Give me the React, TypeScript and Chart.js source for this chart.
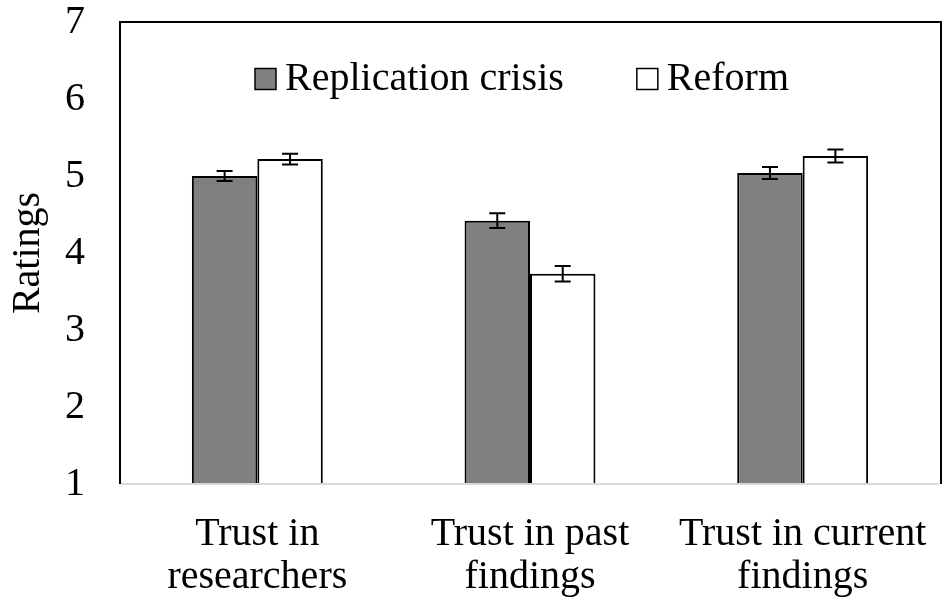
import React, { useEffect, useRef } from "react";
import { Chart, registerables } from "chart.js";

Chart.register(...registerables);

const categories: string[][] = [
  ["Trust in", "researchers"],
  ["Trust in past", "findings"],
  ["Trust in current", "findings"],
];
const seriesNames = ["Replication crisis", "Reform"];
const crisisValues = [5.0, 4.42, 5.04];
const crisisErrors = [0.065, 0.095, 0.078];
const reformValues = [5.22, 3.73, 5.26];
const reformErrors = [0.07, 0.1, 0.085];
const yTicks = [1, 2, 3, 4, 5, 6, 7];

const FONT = '"Liberation Serif", "Times New Roman", serif';

const errorBarPlugin = {
  id: "errorBars",
  afterDatasetsDraw(chart: any) {
    const ctx = chart.ctx;
    const y = chart.scales.y;
    ctx.save();
    ctx.strokeStyle = "#000";
    ctx.lineWidth = 2;
    chart.data.datasets.forEach((ds: any, di: number) => {
      const meta = chart.getDatasetMeta(di);
      meta.data.forEach((bar: any, i: number) => {
        const v = ds.data[i];
        const e = ds.errors[i];
        const yTop = y.getPixelForValue(v + e);
        const yBot = y.getPixelForValue(v - e);
        const x = bar.x;
        const cap = 8;
        ctx.beginPath();
        ctx.moveTo(x, yTop);
        ctx.lineTo(x, yBot);
        ctx.moveTo(x - cap, yTop);
        ctx.lineTo(x + cap, yTop);
        ctx.moveTo(x - cap, yBot);
        ctx.lineTo(x + cap, yBot);
        ctx.stroke();
      });
    });
    ctx.restore();
  },
};

const framePlugin = {
  id: "frame",
  afterDraw(chart: any) {
    const { ctx, chartArea } = chart;
    const { left, right, top, bottom } = chartArea;
    ctx.save();
    ctx.strokeStyle = "#d9d9d9";
    ctx.lineWidth = 2;
    ctx.beginPath();
    ctx.moveTo(left, bottom);
    ctx.lineTo(right, bottom);
    ctx.stroke();
    ctx.strokeStyle = "#000";
    ctx.lineWidth = 2;
    ctx.beginPath();
    ctx.moveTo(left - 1, bottom);
    ctx.lineTo(left - 1, top);
    ctx.lineTo(right + 2, top);
    ctx.lineTo(right + 2, bottom);
    ctx.stroke();
    ctx.restore();
  },
};

const legendPlugin = {
  id: "innerLegend",
  afterDraw(chart: any) {
    const { ctx, chartArea } = chart;
    ctx.save();
    ctx.font = `40px ${FONT}`;
    ctx.textBaseline = "middle";
    ctx.fillStyle = "#000";
    const box = 21;
    const gapBoxText = 9;
    const gapItems = 73;
    const items = chart.data.datasets.map((ds: any) => ({
      label: ds.label,
      fill: ds.backgroundColor,
      w: ctx.measureText(ds.label).width,
    }));
    const total =
      items.reduce((s: number, it: any) => s + box + gapBoxText + it.w, 0) +
      gapItems * (items.length - 1);
    let x = (chartArea.left + chartArea.right) / 2 - 8 - total / 2;
    const cy = chartArea.top + 57;
    items.forEach((it: any) => {
      ctx.fillStyle = it.fill;
      ctx.fillRect(x, cy - box / 2, box, box);
      ctx.strokeStyle = "#000";
      ctx.lineWidth = 1.5;
      ctx.strokeRect(x, cy - box / 2, box, box);
      ctx.fillStyle = "#000";
      ctx.fillText(it.label, x + box + gapBoxText, cy);
      x += box + gapBoxText + it.w + gapItems;
    });
    ctx.restore();
  },
};

export default function App() {
  const canvasRef = useRef<HTMLCanvasElement | null>(null);

  useEffect(() => {
    document.body.style.margin = "0";
    if (!canvasRef.current) return;
    const chart = new Chart(canvasRef.current, {
      type: "bar",
      data: {
        labels: categories,
        datasets: [
          {
            label: seriesNames[0],
            data: crisisValues,
            errors: crisisErrors,
            backgroundColor: "#808080",
            borderColor: "#000",
            borderWidth: 2,
            barPercentage: 1.0,
            categoryPercentage: 0.48,
          } as any,
          {
            label: seriesNames[1],
            data: reformValues,
            errors: reformErrors,
            backgroundColor: "#ffffff",
            borderColor: "#000",
            borderWidth: 2,
            barPercentage: 1.0,
            categoryPercentage: 0.48,
          } as any,
        ],
      },
      options: {
        animation: false,
        responsive: true,
        maintainAspectRatio: false,
        layout: { padding: { top: 22, right: 6, left: 0, bottom: 0 } },
        plugins: {
          legend: { display: false },
          tooltip: { enabled: false },
        },
        scales: {
          x: {
            grid: { display: false, drawTicks: false },
            border: { display: false },
            ticks: {
              color: "#000",
              font: { family: FONT, size: 40, lineHeight: 1.08 },
              padding: 29,
              maxRotation: 0,
              autoSkip: false,
            },
            afterFit(scale: any) {
              scale.height = 118;
              scale.paddingLeft = 0;
              scale.paddingRight = 0;
            },
          },
          y: {
            min: 1,
            max: 7,
            afterBuildTicks(scale: any) {
              scale.ticks = yTicks.map((v) => ({ value: v }));
            },
            grid: { display: false, drawTicks: false },
            border: { display: false },
            ticks: {
              color: "#000",
              font: { family: FONT, size: 40 },
              padding: 36,
            },
            title: {
              display: true,
              text: "Ratings",
              color: "#000",
              font: { family: FONT, size: 40 },
              padding: { top: 4, bottom: 0 },
            },
            afterFit(scale: any) {
              scale.width = 121;
              scale.paddingTop = 0;
              scale.paddingBottom = 0;
            },
          },
        },
      },
      plugins: [errorBarPlugin, framePlugin, legendPlugin],
    });
    return () => chart.destroy();
  }, []);

  return (
    <div style={{ position: "fixed", left: 0, top: 0, width: 945, height: 602, background: "#fff" }}>
      <canvas ref={canvasRef} />
    </div>
  );
}
